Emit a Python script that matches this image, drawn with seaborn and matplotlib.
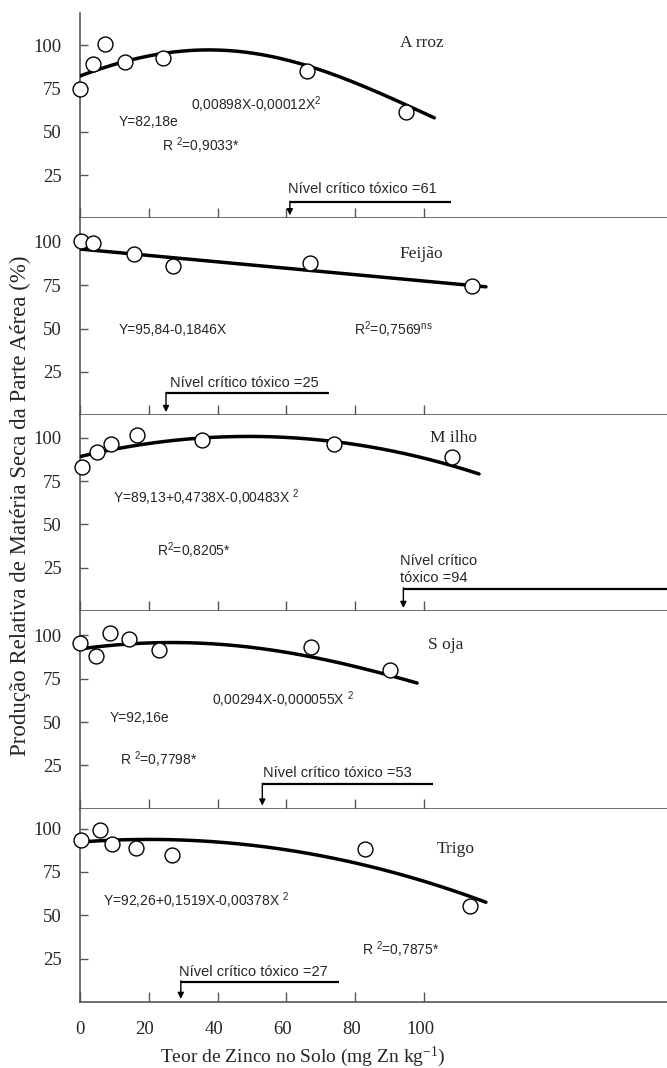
import numpy as np
import pandas as pd
import matplotlib
matplotlib.use("Agg")
import matplotlib.pyplot as plt
import matplotlib.transforms as mtransforms
import seaborn as sns

# ---------------- data ----------------
crops = ["A rroz", "Feijão", "M ilho", "S oja", "Trigo"]

arroz_x = [0.0, 3.7, 7.4, 13.1, 24.2, 65.9, 94.8]
arroz_y = [74.8, 88.9, 100.5, 90.3, 92.4, 85.1, 61.6]
feijao_x = [0.3, 3.9, 15.8, 26.9, 66.9, 113.9]
feijao_y = [100.7, 99.4, 92.8, 86.2, 88.0, 74.8]
milho_x = [0.5, 4.8, 8.9, 16.5, 35.6, 73.9, 108.0]
milho_y = [82.9, 91.6, 96.4, 101.5, 98.8, 96.4, 89.1]
soja_x = [0.0, 4.7, 8.7, 14.3, 23.1, 67.2, 90.1]
soja_y = [95.6, 87.9, 101.3, 98.1, 91.8, 93.3, 79.9]
trigo_x = [0.2, 5.8, 9.4, 16.2, 26.7, 82.8, 113.4]
trigo_y = [93.2, 99.4, 91.3, 88.8, 84.9, 88.4, 55.4]

points_x = [arroz_x, feijao_x, milho_x, soja_x, trigo_x]
points_y = [arroz_y, feijao_y, milho_y, soja_y, trigo_y]

# fitted models as printed on the chart
model_type = ["exp", "lin", "poly", "exp", "poly"]
coef_a = [82.18, 95.84, 89.13, 92.16, 92.26]
coef_b = [0.00898, -0.1846, 0.4738, 0.00294, 0.1519]
coef_c = [-0.00012, 0.0, -0.00483, -0.000055, -0.00378]
curve_start = [0, 0, 0, 0, 1]
curve_end = [103, 118, 116, 98, 118]

critical_level = [61, 25, 94, 53, 27]
critical_text = ["Nível crítico tóxico =61", "Nível crítico tóxico =25",
                 "Nível crítico\ntóxico =94", "Nível crítico tóxico =53",
                 "Nível crítico tóxico =27"]

equation_texts = [
    ["0,00898X-0,00012X$^{2}$", "Y=82,18e", "R $^{2}$=0,9033*"],
    ["Y=95,84-0,1846X", "R$^{2}$=0,7569$^{ns}$"],
    ["Y=89,13+0,4738X-0,00483X $^{2}$", "R$^{2}$=0,8205*"],
    ["0,00294X-0,000055X $^{2}$", "Y=92,16e", "R $^{2}$=0,7798*"],
    ["Y=92,26+0,1519X-0,00378X $^{2}$", "R $^{2}$=0,7875*"],
]

y_ticks = [25, 50, 75, 100]
x_ticks = [0, 20, 40, 60, 80, 100]
x_label = "Teor de Zinco no Solo (mg Zn kg$^{-1}$)"
y_label = "Produção Relativa de Matéria Seca da Parte Aérea (%)"

# ---------------- layout / style ----------------
eq_pos = [
    [(32.4, 65.5), (11.1, 55.4), (23.9, 42.0)],
    [(11.1, 49.2), (79.7, 49.2)],
    [(9.7, 65.3), (22.5, 34.7)],
    [(38.5, 62.6), (8.7, 52.1), (11.6, 28.2)],
    [(6.8, 58.3), (81.9, 30.2)],
]
name_pos = [(93, 101), (93, 92.8), (101.7, 99.8), (101.3, 94.7), (103.7, 88.4)]
crit_text_pos = [(60.5, 16.9), (26.2, 18.4), (93.0, 24.0), (53.3, 20.5), (28.8, 17.3)]
crit_line_y = [9.5, 12.7, 13.0, 14.2, 11.8]
crit_line_end = [107.8, 72.5, 175.0, 102.5, 75.4]
crit_arrow_x = [61, 25, 94, 53, 29.3]
ylims = [118.5, 113.5, 113.0, 114.0, 111.5]
xmax = (667 - 80) / 3.44

sns.set_style("ticks")
plt.rcParams['font.family'] = ['Liberation Serif', 'DejaVu Serif']
plt.rcParams['mathtext.default'] = 'regular'

W, H = 667, 1068
fig = plt.figure(figsize=(W / 100, H / 100), dpi=100)
gs = fig.add_gridspec(5, 1, left=80 / W, right=1.0, top=1 - 13 / H,
                      bottom=1 - 1002 / H, hspace=0, height_ratios=ylims)

spine_col = "#555555"
sans = ['Liberation Sans', 'DejaVu Sans']

for i in range(5):
    ax = fig.add_subplot(gs[i])
    xs = np.linspace(curve_start[i], curve_end[i], 200)
    if model_type[i] == "exp":
        ys = coef_a[i] * np.exp(coef_b[i] * xs + coef_c[i] * xs ** 2)
    elif model_type[i] == "lin":
        ys = coef_a[i] + coef_b[i] * xs
    else:
        ys = coef_a[i] + coef_b[i] * xs + coef_c[i] * xs ** 2
    curve = pd.DataFrame({"x": xs, "y": ys})
    pts = pd.DataFrame({"x": points_x[i], "y": points_y[i]})

    sns.lineplot(data=curve, x="x", y="y", ax=ax, color="black", lw=2.5,
                 sort=False, zorder=3)
    sns.scatterplot(data=pts, x="x", y="y", ax=ax, s=115, facecolor="white",
                    edgecolor="black", linewidth=1.0, zorder=4, clip_on=False)

    ax.set_xlim(0, xmax)
    ax.set_ylim(0, ylims[i])
    ax.set_xlabel("")
    ax.set_ylabel("")
    for s in ["top", "right"]:
        ax.spines[s].set_visible(False)
    for s in ["left", "bottom"]:
        ax.spines[s].set_color(spine_col)
        ax.spines[s].set_linewidth(1.2)

    ax.set_yticks(y_ticks)
    ax.set_yticklabels([str(t) for t in y_ticks])
    ax.tick_params(axis="y", direction="in", length=6, width=1.0,
                   color=spine_col, pad=13, labelsize=13.5)
    ax.set_xticks(x_ticks)
    ax.tick_params(axis="x", direction="in", length=7, width=1.0,
                   color=spine_col, pad=14, labelsize=13.5)
    if i < 4:
        ax.set_xticklabels([])
    else:
        ax.set_xticklabels([str(t) for t in x_ticks])
        off = mtransforms.ScaledTranslation(-4 / 100, 0, fig.dpi_scale_trans)
        for lab in ax.get_xticklabels()[1:]:
            lab.set_transform(lab.get_transform() + off)

    # panel name
    ax.text(name_pos[i][0], name_pos[i][1], crops[i], ha="left", va="center",
            fontsize=12.5)
    # equations
    for (tx, ty), s in zip(eq_pos[i], equation_texts[i]):
        ax.text(tx, ty, s, ha="left", va="center", fontsize=10, family=sans)
    # critical level
    ax.text(crit_text_pos[i][0], crit_text_pos[i][1], critical_text[i],
            ha="left", va="center", fontsize=10.5, family=sans,
            linespacing=1.3)
    ax.plot([crit_arrow_x[i], crit_line_end[i]], [crit_line_y[i]] * 2,
            color="black", lw=1.6, clip_on=False, solid_capstyle="butt")
    ax.annotate("", xy=(crit_arrow_x[i], 1.8),
                xytext=(crit_arrow_x[i], crit_line_y[i] + 0.4),
                arrowprops=dict(arrowstyle="-|>", color="black", lw=1.0,
                                mutation_scale=9, shrinkA=0, shrinkB=0))

fig.text(20 / W, 1 - 506 / H, y_label, rotation=90, ha="center", va="center",
         fontsize=16.5)
fig.text(303 / W, 1 - 1057 / H, x_label, ha="center", va="center",
         fontsize=14)

fig.savefig("out.png", dpi=100)
